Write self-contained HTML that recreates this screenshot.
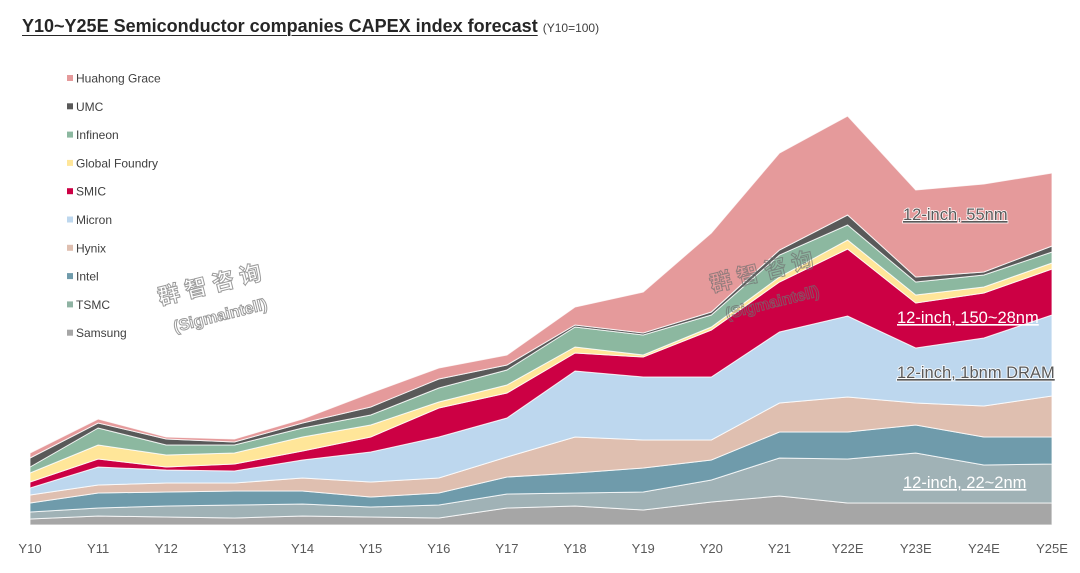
<!DOCTYPE html>
<html><head><meta charset="utf-8">
<style>
html,body{margin:0;padding:0;background:#fff;}
body{width:1080px;height:573px;overflow:hidden;position:relative;font-family:"Liberation Sans","Noto Sans CJK SC",sans-serif;}
#title{position:absolute;left:22px;top:16px;font-size:18px;font-weight:bold;color:#262626;white-space:nowrap;}
#title u{text-decoration:underline;text-decoration-thickness:1px;text-underline-offset:3px;}
#title span{font-size:12px;font-weight:normal;color:#404040;}
</style></head>
<body>
<div id="title"><u>Y10~Y25E Semiconductor companies CAPEX index forecast</u> <span>(Y10=100)</span></div>
<svg id="chart" width="1080" height="573" style="position:absolute;left:0;top:0"></svg>
<script>
const categories=["Y10","Y11","Y12","Y13","Y14","Y15","Y16","Y17","Y18","Y19","Y20","Y21","Y22E","Y23E","Y24E","Y25E"];
const seriesNames=["Samsung","TSMC","Intel","Hynix","Micron","SMIC","Global Foundry","Infineon","UMC","Huahong Grace"];
const samsung=[6,9,8,7,9,8,7,17,19,15,23,29,22,22,22,22];
const tsmc=[7,8,11,13,12,10,13,14,13,18,22,38,44,50,38,39];
const intel=[9,15,14,14,13,10,12,17,20,24,20,26,27,28,28,27];
const hynix=[8,8,9,8,13,15,15,20,36,28,20,29,35,22,31,41];
const micron=[7,18,13,12,18,30,41,39,66,63,63,71,81,55,68,81];
const smic=[6,8,3,7,9,15,29,25,18,20,47,50,67,45,45,46];
const globalFoundry=[9,14,12,11,14,12,6,8,6,2,3,5,9,8,6,6];
const infineon=[6,17,10,8,9,10,14,15,20,20,12,22,15,13,12,11];
const umc=[9,5,6,3,5,8,9,5,2,2,3,5,10,5,3,6];
const huahong=[5,4,2,3,4,14,11,10,18,41,79,97,99,87,88,73];
const series=[samsung,tsmc,intel,hynix,micron,smic,globalFoundry,infineon,umc,huahong];
const colors=["#a6a6a6","#a0b2b6","#6f9bab","#dfbfb0","#bdd7ee","#cc0044","#ffe699","#8cb8a0","#595959","#e59a9b"];
const legendColors=["#a6a6a6","#8fb3a3","#6f9bab","#dfbfb0","#bdd7ee","#cc0044","#ffe699","#8cb8a0","#595959","#e59a9b"];
const NS="http://www.w3.org/2000/svg";
const svg=document.getElementById('chart');
const x0=30,x1=1052,base=525;
const xScale=i=>x0+i*(x1-x0)/(categories.length-1);
const yScale=v=>base-v;
function mk(t,a){const e=document.createElementNS(NS,t);for(const k in a)e.setAttribute(k,a[k]);return e;}
let cum=categories.map(()=>0);
series.forEach((s,si)=>{
  const lower=cum.slice();
  const upper=cum.map((c,i)=>c+s[i]);
  let d="M"+categories.map((c,i)=>xScale(i)+","+yScale(upper[i])).join(" L");
  for(let i=categories.length-1;i>=0;i--)d+=" L"+xScale(i)+","+yScale(lower[i]);
  d+=" Z";
  const p=mk('path',{d:d,fill:colors[si],stroke:"#ffffff","stroke-width":"1","stroke-opacity":"0.8"});
  
  
  svg.appendChild(p);
  cum=upper;
});
categories.forEach((c,i)=>{
  const t=mk('text',{x:xScale(i),y:553,"text-anchor":"middle","font-size":"13",fill:"#595959"});
  t.textContent=c;
  
  
  svg.appendChild(t);
});
for(let k=0;k<seriesNames.length;k++){
  const si=seriesNames.length-1-k;
  const y=79+k*28.3;
  const g=mk('g',{});
  
  
  g.appendChild(mk('rect',{x:67,y:y-4,width:6,height:6,fill:legendColors[si]}));
  const t=mk('text',{x:76,y:y+3.5,"font-size":"12",fill:"#404040"});
  t.textContent=seriesNames[si];
  g.appendChild(t);
  svg.appendChild(g);
}
const notes=[["12-inch, 55nm",903,220,"#595959",true],["12-inch, 150~28nm",897,323,"#ffffff",false],["12-inch, 1bnm DRAM",897,378,"#595959",true],["12-inch, 22~2nm",903,488,"#ffffff",false]];
notes.forEach(n=>{
  const t=mk('text',{x:n[1],y:n[2],"font-size":"16.5",fill:n[3],"text-decoration":"underline"});
  if(n[4])t.setAttribute('style','paint-order:stroke;stroke:#ffffff;stroke-width:1.5px;');
  t.textContent=n[0];
  
  
  svg.appendChild(t);
});
[[160,305],[712,292]].forEach(w=>{
  const g=mk('g',{transform:"translate("+w[0]+","+w[1]+") rotate(-14)",opacity:"0.7"});
  
  
  const a=mk('text',{x:0,y:0,"font-size":"22","font-weight":"bold",fill:"none",stroke:"#707070","stroke-width":"1","letter-spacing":"6"});
  a.textContent="群智咨询";
  const b=mk('text',{x:8,y:30,"font-size":"16","font-weight":"bold",fill:"none",stroke:"#707070","stroke-width":"1"});
  b.textContent="(Sigmaintell)";
  g.appendChild(a);g.appendChild(b);svg.appendChild(g);
});
</script>
</body></html>
